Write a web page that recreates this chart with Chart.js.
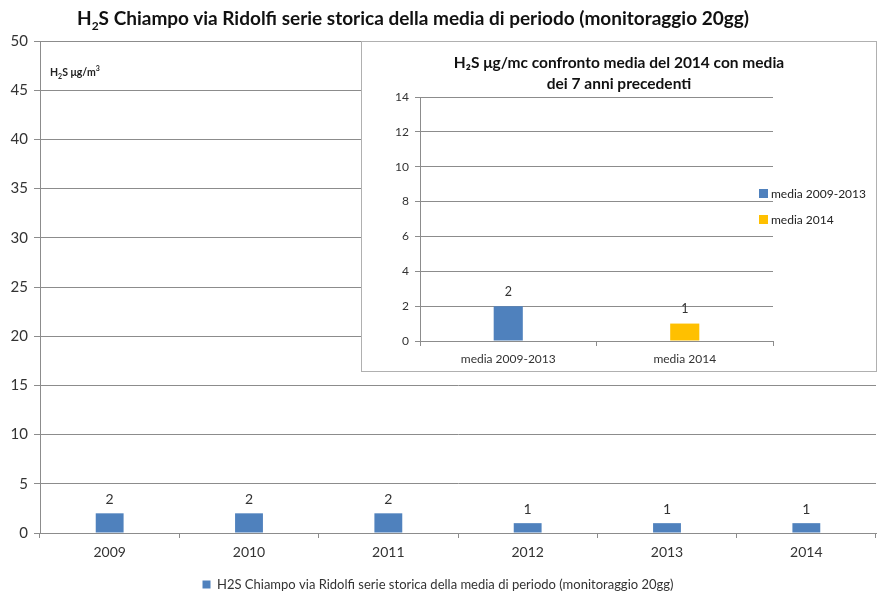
<!DOCTYPE html>
<html>
<head>
<meta charset="utf-8">
<script src="https://cdn.jsdelivr.net/npm/chart.js@4"></script>
<style>
  html, body { margin: 0; padding: 0; background: #fff; }
  #wrap { position: relative; width: 877px; height: 593px; font-family: Lato, "Open Sans", sans-serif; overflow: hidden; }
  #main { position: absolute; left: 0; top: 0; }
  #title { position: absolute; left: 0; width: 826px; top: 6px; text-align: center; font-size: 19px; font-weight: bold; color: #111; line-height: 24px; white-space: nowrap; }
  #title sub { font-size: 12px; line-height: 0; }
  #unit { position: absolute; left: 50px; top: 64px; font-size: 10.5px; font-weight: bold; color: #222; }
  #unit sub, #unit sup { font-size: 7px; }
  #inset { position: absolute; left: 361px; top: 41px; width: 514px; height: 329px; border: 1px solid #b0b0b0; background: #fff; }
  #insetCanvas { position: absolute; left: 0; top: 0; }
  #insetLegend { position: absolute; left: 397px; top: 138px; font-size: 12px; color: #222; }
  #insetLegend div { height: 26px; display: flex; align-items: center; white-space: nowrap; }
  #insetLegend span.sw { display: inline-block; width: 9px; height: 9px; margin-right: 3px; }
</style>
</head>
<body>
<div id="wrap">
  <canvas id="main" width="877" height="593"></canvas>
  <div id="title">H<sub>2</sub>S Chiampo via Ridolfi serie storica della media di periodo (monitoraggio 20gg)</div>
  <div id="unit">H<sub>2</sub>S μg/m<sup>3</sup></div>
  <div id="inset">
    <canvas id="insetCanvas" width="514" height="329"></canvas>
    <div id="insetLegend"></div>
  </div>
</div>
<script>
// Yearly period averages of H2S (µg/m³), 20-day monitoring campaigns
const years = ['2009', '2010', '2011', '2012', '2013', '2014'];
const yearlyMeans = [2, 2, 2, 1, 1, 1];
const mainTicks = [0, 5, 10, 15, 20, 25, 30, 35, 40, 45, 50];
const mainSeriesName = 'H2S Chiampo via Ridolfi serie storica della media di periodo (monitoraggio 20gg)';

// 2014 average compared with the previous years
const compareLabels = ['media 2009-2013', 'media 2014'];
const compareMeans = [2, 1];
const compareTicks = [0, 2, 4, 6, 8, 10, 12, 14];
const compareTitle = ['H\u2082S μg/mc confronto media del 2014 con media', 'dei 7 anni precedenti'];

const BLUE = '#4F81BD';
const GOLD = '#FFC000';
const GRID = '#8c8c8c';
const TXT = '#333';
const FONT = 'Lato, "Open Sans", sans-serif';

// writes each bar's value above it
const valueLabels = {
  id: 'valueLabels',
  afterDatasetsDraw(chart, args, opts) {
    const ctx = chart.ctx;
    ctx.save();
    ctx.fillStyle = TXT;
    ctx.font = opts.size + 'px ' + FONT;
    ctx.textAlign = 'center';
    ctx.textBaseline = 'bottom';
    chart.data.datasets.forEach((ds, i) => {
      chart.getDatasetMeta(i).data.forEach((bar, j) => {
        ctx.fillText(String(ds.data[j]), bar.x, bar.y - opts.gap);
      });
    });
    ctx.restore();
  }
};

new Chart(document.getElementById('main'), {
  type: 'bar',
  data: {
    labels: years,
    datasets: [{
      label: mainSeriesName,
      data: yearlyMeans,
      backgroundColor: BLUE,
      barPercentage: 0.4,
      categoryPercentage: 0.5
    }]
  },
  options: {
    responsive: false,
    animation: false,
    layout: { padding: { left: 0, right: 1, top: 41, bottom: -8 } },
    plugins: {
      title: { display: false },
      legend: {
        position: 'bottom',
        labels: {
          boxWidth: 8, boxHeight: 8, color: TXT,
          font: { family: FONT, size: 13 }, padding: 6
        }
      },
      tooltip: { enabled: false },
      valueLabels: { size: 14, gap: 7 }
    },
    scales: {
      x: {
        grid: { display: true, drawOnChartArea: false, drawTicks: true, tickLength: 5, color: GRID },
        border: { color: GRID },
        ticks: { color: TXT, font: { family: FONT, size: 14 }, padding: 6 },
        afterFit(s) { s.height = 39; }
      },
      y: {
        min: 0, max: 50,
        afterBuildTicks(s) { s.ticks = mainTicks.map(v => ({ value: v })); },
        grid: { color: GRID, tickLength: 6 },
        border: { color: GRID },
        ticks: { color: TXT, font: { family: FONT, size: 15 }, padding: 6 },
        afterFit(s) { s.width = 40; }
      }
    }
  },
  plugins: [valueLabels]
});

new Chart(document.getElementById('insetCanvas'), {
  type: 'bar',
  data: {
    labels: compareLabels,
    datasets: [{
      data: compareMeans,
      backgroundColor: [BLUE, GOLD],
      barPercentage: 0.5,
      categoryPercentage: 0.33
    }]
  },
  options: {
    responsive: false,
    animation: false,
    layout: { padding: 0 },
    plugins: {
      title: {
        display: true,
        text: compareTitle,
        color: '#111',
        font: { family: FONT, size: 15.5, weight: 'bold', lineHeight: 1.355 },
        padding: { top: 10, bottom: 3 }
      },
      legend: { display: false },
      tooltip: { enabled: false },
      valueLabels: { size: 12.5, gap: 8 }
    },
    scales: {
      x: {
        grid: { display: true, drawOnChartArea: false, drawTicks: true, tickLength: 5, color: GRID },
        border: { color: GRID },
        ticks: { color: TXT, font: { family: FONT, size: 12 }, padding: 6 },
        afterFit(s) { s.height = 30; }
      },
      y: {
        min: 0, max: 14,
        afterBuildTicks(s) { s.ticks = compareTicks.map(v => ({ value: v })); },
        grid: { color: GRID, tickLength: 5 },
        border: { color: GRID },
        ticks: { color: TXT, font: { family: FONT, size: 12 }, padding: 6 },
        afterFit(s) { s.width = 58; }
      },
      // empty right-hand axis that keeps room free for the legend
      side: {
        position: 'right',
        display: true,
        grid: { display: false },
        border: { display: false },
        ticks: { display: false },
        afterFit(s) { s.width = 103; }
      }
    }
  },
  plugins: [valueLabels]
});

// legend for the comparison chart, one entry per category colour
const legendBox = document.getElementById('insetLegend');
[BLUE, GOLD].forEach((c, i) => {
  const row = document.createElement('div');
  row.innerHTML = '<span class="sw" style="background:' + c + '"></span>' + compareLabels[i];
  legendBox.appendChild(row);
});
</script>
</body>
</html>
